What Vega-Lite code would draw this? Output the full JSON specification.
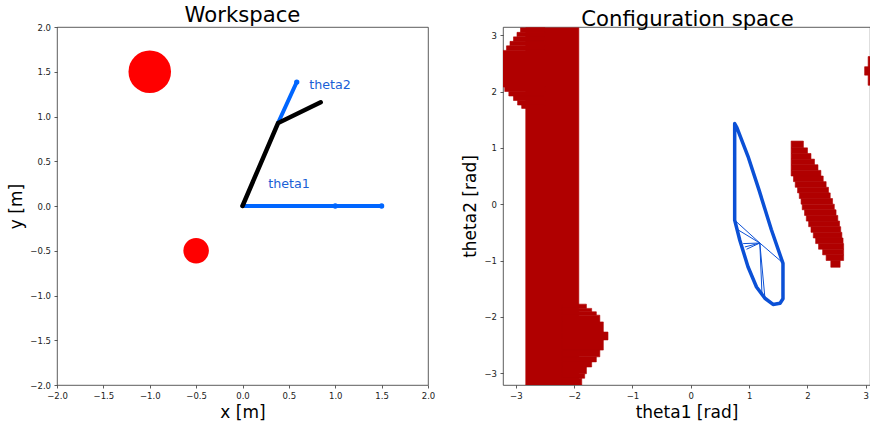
{
  "$schema": "https://vega.github.io/schema/vega-lite/v6.json",
  "padding": {"left": 7, "top": 4, "right": 0, "bottom": 0},
  "background": "white",
  "config": {
    "font": "DejaVu Sans",
    "view": {"stroke": "#333", "strokeWidth": 0.8},
    "axis": {
      "grid": false, "domain": false, "tickSize": 3, "tickColor": "#333", "tickWidth": 0.8,
      "labelFontSize": 8.5, "labelColor": "#222", "labelPadding": 3.5,
      "titleFontSize": 17, "titleFontWeight": "normal", "titleColor": "black", "titlePadding": 4,
      "labelFlush": false, "labelOverlap": false
    },
    "title": {"fontSize": 21.2, "fontWeight": "normal", "color": "black", "offset": -3, "baseline": "alphabetic"}
  },
  "datasets": {
    "obstacles": [
      {"x": -1.0, "y": 1.5, "r": 0.25},
      {"x": -0.5, "y": -0.5, "r": 0.15}
    ],
    "refs": [
      {"seg": "ref1", "i": 0, "x": 0.0, "y": 0.0},
      {"seg": "ref1", "i": 1, "x": 1.5, "y": 0.0},
      {"seg": "ref2", "i": 0, "x": 0.383, "y": 0.927},
      {"seg": "ref2", "i": 1, "x": 0.585, "y": 1.385}
    ],
    "refdots": [
      {"x": 1.0, "y": 0.0},
      {"x": 1.5, "y": 0.0},
      {"x": 0.585, "y": 1.385}
    ],
    "arm": [
      {"i": 0, "x": 0.0, "y": 0.0},
      {"i": 1, "x": 0.383, "y": 0.927},
      {"i": 2, "x": 0.843, "y": 1.159}
    ],
    "labels": [
      {"x": 0.278, "y": 0.201, "text": "theta1"},
      {"x": 0.72, "y": 1.304, "text": "theta2"}
    ],
    "cobs": [
      {"a": -2.83, "b": -1.92, "c": -3.21, "d": 3.13},
      {"a": -2.92, "b": -2.5, "c": 3.05, "d": 3.13},
      {"a": -2.98, "b": -2.5, "c": 2.97, "d": 3.05},
      {"a": -3.04, "b": -2.5, "c": 2.89, "d": 2.97},
      {"a": -3.10, "b": -2.5, "c": 2.81, "d": 2.89},
      {"a": -3.16, "b": -2.5, "c": 2.73, "d": 2.81},
      {"a": -3.30, "b": -2.5, "c": 2.08, "d": 2.73},
      {"a": -3.19, "b": -2.5, "c": 2.00, "d": 2.08},
      {"a": -3.12, "b": -2.5, "c": 1.92, "d": 2.00},
      {"a": -3.04, "b": -2.5, "c": 1.84, "d": 1.92},
      {"a": -2.97, "b": -2.5, "c": 1.76, "d": 1.84},
      {"a": -2.90, "b": -2.5, "c": 1.70, "d": 1.76},
      {"a": -2.2, "b": -1.79, "c": -1.85, "d": -1.775},
      {"a": -2.2, "b": -1.70, "c": -1.91, "d": -1.85},
      {"a": -2.2, "b": -1.62, "c": -1.97, "d": -1.91},
      {"a": -2.2, "b": -1.56, "c": -2.09, "d": -1.97},
      {"a": -2.2, "b": -1.50, "c": -2.27, "d": -2.09},
      {"a": -2.2, "b": -1.42, "c": -2.41, "d": -2.27},
      {"a": -2.2, "b": -1.50, "c": -2.59, "d": -2.41},
      {"a": -2.2, "b": -1.56, "c": -2.71, "d": -2.59},
      {"a": -2.2, "b": -1.62, "c": -2.80, "d": -2.71},
      {"a": -2.2, "b": -1.70, "c": -2.89, "d": -2.80},
      {"a": -2.2, "b": -1.79, "c": -3.01, "d": -2.89},
      {"a": -2.2, "b": -1.82, "c": -3.09, "d": -3.01},
      {"a": -2.2, "b": -1.87, "c": -3.21, "d": -3.09},
      {"a": 1.72, "b": 1.93, "c": 1.00, "d": 1.12},
      {"a": 1.72, "b": 2.00, "c": 0.90, "d": 1.00},
      {"a": 1.72, "b": 2.06, "c": 0.80, "d": 0.90},
      {"a": 1.72, "b": 2.12, "c": 0.70, "d": 0.80},
      {"a": 1.72, "b": 2.18, "c": 0.60, "d": 0.70},
      {"a": 1.72, "b": 2.23, "c": 0.50, "d": 0.60},
      {"a": 1.76, "b": 2.27, "c": 0.40, "d": 0.50},
      {"a": 1.79, "b": 2.32, "c": 0.30, "d": 0.40},
      {"a": 1.83, "b": 2.36, "c": 0.20, "d": 0.30},
      {"a": 1.86, "b": 2.39, "c": 0.10, "d": 0.20},
      {"a": 1.89, "b": 2.43, "c": 0.00, "d": 0.10},
      {"a": 1.91, "b": 2.46, "c": -0.10, "d": 0.00},
      {"a": 1.95, "b": 2.49, "c": -0.20, "d": -0.10},
      {"a": 1.98, "b": 2.52, "c": -0.30, "d": -0.20},
      {"a": 2.02, "b": 2.55, "c": -0.40, "d": -0.30},
      {"a": 2.06, "b": 2.57, "c": -0.50, "d": -0.40},
      {"a": 2.10, "b": 2.59, "c": -0.60, "d": -0.50},
      {"a": 2.14, "b": 2.61, "c": -0.70, "d": -0.60},
      {"a": 2.19, "b": 2.62, "c": -0.80, "d": -0.70},
      {"a": 2.26, "b": 2.62, "c": -0.90, "d": -0.80},
      {"a": 2.32, "b": 2.62, "c": -1.00, "d": -0.90},
      {"a": 2.40, "b": 2.56, "c": -1.12, "d": -1.00},
      {"a": 2.98, "b": 3.20, "c": 2.29, "d": 2.44},
      {"a": 3.04, "b": 3.20, "c": 2.11, "d": 2.62}
    ],
    "outline": [
      {"i": 0, "t1": 0.752, "t2": -0.284},
      {"i": 1, "t1": 0.752, "t2": 1.43},
      {"i": 2, "t1": 0.79, "t2": 1.36},
      {"i": 3, "t1": 0.98, "t2": 0.85},
      {"i": 4, "t1": 1.17, "t2": 0.25},
      {"i": 5, "t1": 1.38, "t2": -0.45},
      {"i": 6, "t1": 1.58, "t2": -1.05},
      {"i": 7, "t1": 1.58, "t2": -1.68},
      {"i": 8, "t1": 1.53, "t2": -1.76},
      {"i": 9, "t1": 1.41, "t2": -1.78},
      {"i": 10, "t1": 1.27, "t2": -1.67},
      {"i": 11, "t1": 1.126, "t2": -1.47},
      {"i": 12, "t1": 0.98, "t2": -1.11},
      {"i": 13, "t1": 0.84, "t2": -0.64},
      {"i": 14, "t1": 0.752, "t2": -0.284}
    ],
    "inner": [
      {"seg": "A", "i": 0, "t1": 0.752, "t2": -0.284},
      {"seg": "A", "i": 1, "t1": 1.183, "t2": -0.69},
      {"seg": "A", "i": 2, "t1": 1.565, "t2": -1.03},
      {"seg": "B", "i": 0, "t1": 0.897, "t2": -0.70},
      {"seg": "B", "i": 1, "t1": 1.183, "t2": -0.69},
      {"seg": "C", "i": 0, "t1": 0.926, "t2": -0.76},
      {"seg": "C", "i": 1, "t1": 1.183, "t2": -0.69},
      {"seg": "D", "i": 0, "t1": 0.955, "t2": -0.80},
      {"seg": "D", "i": 1, "t1": 1.183, "t2": -0.69},
      {"seg": "E", "i": 0, "t1": 1.183, "t2": -0.69},
      {"seg": "E", "i": 1, "t1": 1.27, "t2": -1.66},
      {"seg": "F", "i": 0, "t1": 1.183, "t2": -0.69},
      {"seg": "F", "i": 1, "t1": 1.22, "t2": -1.59},
      {"seg": "G", "i": 0, "t1": 0.80, "t2": -0.45},
      {"seg": "G", "i": 1, "t1": 1.183, "t2": -0.69}
    ]
  },
  "hconcat": [
    {
      "width": 371,
      "height": 358,
      "title": {"text": "Workspace"},
      "layer": [
        {
          "data": {"name": "obstacles"},
          "mark": {"type": "point", "filled": true, "opacity": 1, "color": "#ff0000", "shape": "circle"},
          "encoding": {
            "x": {"field": "x", "type": "quantitative", "scale": {"domain": [-2, 2]},
                  "axis": {"title": "x [m]", "values": [-2, -1.5, -1, -0.5, 0, 0.5, 1, 1.5, 2], "format": ".1f"}},
            "y": {"field": "y", "type": "quantitative", "scale": {"domain": [-2, 2]},
                  "axis": {"title": "y [m]", "values": [-2, -1.5, -1, -0.5, 0, 0.5, 1, 1.5, 2], "format": ".1f"}},
            "size": {"field": "r", "type": "quantitative", "legend": null,
                     "scale": {"type": "pow", "exponent": 2, "domain": [0, 0.25], "range": [0, 1810]}}
          }
        },
        {
          "data": {"name": "refs"},
          "mark": {"type": "line", "color": "#0066ff", "strokeWidth": 4, "strokeCap": "round"},
          "encoding": {
            "x": {"field": "x", "type": "quantitative"},
            "y": {"field": "y", "type": "quantitative"},
            "detail": {"field": "seg"},
            "order": {"field": "i"}
          }
        },
        {
          "data": {"name": "refdots"},
          "mark": {"type": "point", "filled": true, "opacity": 1, "color": "#0066ff", "size": 28},
          "encoding": {
            "x": {"field": "x", "type": "quantitative"},
            "y": {"field": "y", "type": "quantitative"}
          }
        },
        {
          "data": {"name": "arm"},
          "mark": {"type": "line", "color": "black", "strokeWidth": 4.5, "strokeCap": "round", "strokeJoin": "miter"},
          "encoding": {
            "x": {"field": "x", "type": "quantitative"},
            "y": {"field": "y", "type": "quantitative"},
            "order": {"field": "i"}
          }
        },
        {
          "data": {"name": "labels"},
          "mark": {"type": "text", "align": "left", "baseline": "alphabetic", "fontSize": 12.7, "color": "#1a5fd6"},
          "encoding": {
            "x": {"field": "x", "type": "quantitative"},
            "y": {"field": "y", "type": "quantitative"},
            "text": {"field": "text"}
          }
        }
      ]
    },
    {
      "width": 367,
      "height": 358,
      "title": {"text": "Configuration space", "dx": 1},
      "layer": [
        {
          "data": {"name": "cobs"},
          "mark": {"type": "rect", "color": "#b00000", "stroke": "#b00000", "strokeWidth": 0.6, "clip": true},
          "encoding": {
            "x": {"field": "a", "type": "quantitative", "scale": {"domain": [-3.22, 3.072], "nice": false, "zero": false},
                  "axis": {"title": "theta1 [rad]", "values": [-3, -2, -1, 0, 1, 2, 3], "format": "d"}},
            "x2": {"field": "b"},
            "y": {"field": "c", "type": "quantitative", "scale": {"domain": [-3.21, 3.145], "nice": false, "zero": false},
                  "axis": {"title": "theta2 [rad]", "values": [-3, -2, -1, 0, 1, 2, 3], "format": "d"}},
            "y2": {"field": "d"}
          }
        },
        {
          "data": {"name": "inner"},
          "mark": {"type": "line", "color": "#0b50d6", "strokeWidth": 1, "clip": true},
          "encoding": {
            "x": {"field": "t1", "type": "quantitative"},
            "y": {"field": "t2", "type": "quantitative"},
            "detail": {"field": "seg"},
            "order": {"field": "i"}
          }
        },
        {
          "data": {"name": "outline"},
          "mark": {"type": "line", "color": "#0b50d6", "strokeWidth": 3.5, "strokeJoin": "round", "strokeCap": "round", "clip": true},
          "encoding": {
            "x": {"field": "t1", "type": "quantitative"},
            "y": {"field": "t2", "type": "quantitative"},
            "order": {"field": "i"}
          }
        }
      ]
    }
  ],
  "spacing": 75,
  "bounds": "flush",
  "resolve": {"scale": {"x": "independent", "y": "independent"}}
}
